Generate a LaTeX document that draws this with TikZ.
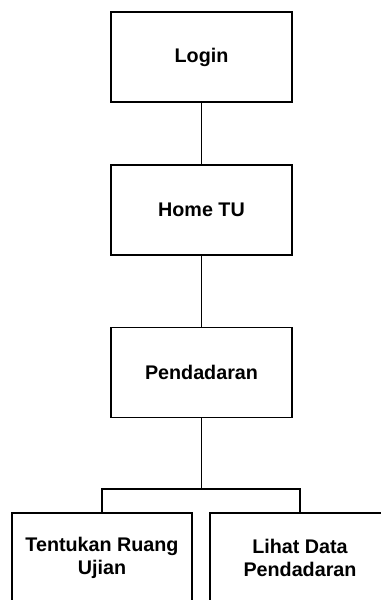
\documentclass[tikz,border=0pt]{standalone}
\usepackage{fontspec}
\setmainfont{Liberation Sans}
\begin{document}
\begin{tikzpicture}[x=0.75pt,y=-0.75pt,
  menubox/.style={draw=black,line width=1.4pt,fill=white,minimum width=135.5pt,minimum height=67.5pt,
    inner sep=0pt,align=center,font=\fontsize{14.8}{17.8}\selectfont\bfseries},
  link/.style={draw=black,line width=1.1pt}]
\clip (0,0) rectangle (381,600);
\fill[white] (0,0) rectangle (381,600);
\node[menubox] (login) at (201.5,57) {Login};
\node[menubox] (home) at (201.5,210) {Home TU};
\node[menubox] (pend) at (201.5,372.5) {Pendadaran};
\node[menubox] (ruang) at (102,558) {Tentukan Ruang\\Ujian};
\node[menubox] (lihat) at (300,558) {Lihat Data\\Pendadaran};
\coordinate (j) at (201.5,489);
\draw[link] (login) -- (home);
\draw[link] (home) -- (pend);
\draw[link] (pend) -- (j);
\draw[link] (ruang.north) |- (j) -| (lihat.north);
\end{tikzpicture}
\end{document}
